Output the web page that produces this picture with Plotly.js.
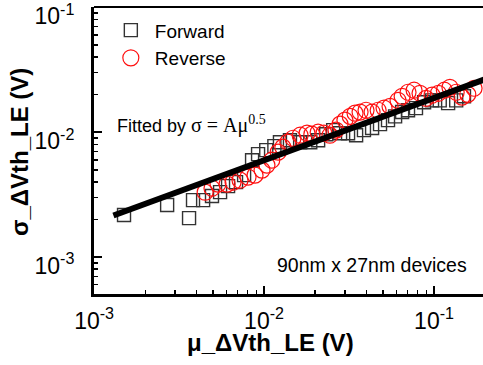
<!DOCTYPE html>
<html>
<head>
<meta charset="utf-8">
<script src="https://cdn.plot.ly/plotly-3.0.1.min.js"></script>
<style>html,body{margin:0;padding:0;background:#fff;}#chart{width:483px;height:365px;}</style>
</head>
<body>
<div id="chart"></div>
<script>
// Forward sweep (open squares)
const forwardMu = [1.50e-3, 2.69e-3, 3.62e-3, 3.82e-3, 4.38e-3, 4.94e-3, 5.51e-3, 6.14e-3, 6.84e-3, 7.63e-3,
  8.50e-3, 9.22e-3, 1.03e-2, 1.15e-2, 1.24e-2, 1.42e-2, 1.63e-2, 1.87e-2, 2.08e-2, 2.32e-2,
  2.55e-2, 2.80e-2, 3.12e-2, 3.48e-2, 3.87e-2, 4.32e-2, 4.81e-2, 5.36e-2, 5.90e-2, 6.49e-2,
  7.03e-2, 7.83e-2, 8.74e-2, 9.73e-2, 1.08e-1, 1.21e-1, 1.35e-1, 1.50e-1];
const forwardSigma = [2.17e-3, 2.61e-3, 2.05e-3, 2.86e-3, 2.86e-3, 3.08e-3, 3.31e-3, 3.70e-3, 3.98e-3, 4.53e-3,
  5.97e-3, 6.67e-3, 7.18e-3, 7.73e-3, 8.32e-3, 8.63e-3, 8.32e-3, 8.32e-3, 8.63e-3, 9.64e-3,
  1.04e-2, 9.82e-3, 9.82e-3, 9.46e-3, 1.04e-2, 1.08e-2, 1.16e-2, 1.25e-2, 1.34e-2, 1.45e-2,
  1.50e-2, 1.56e-2, 1.74e-2, 1.80e-2, 1.80e-2, 1.71e-2, 1.80e-2, 1.94e-2];
// Reverse sweep (open circles)
const reverseMu = [4.50e-3, 4.94e-3, 5.36e-3, 6.06e-3, 6.57e-3, 7.22e-3, 8.05e-3, 8.85e-3, 9.73e-3, 1.04e-2,
  1.11e-2, 1.21e-2, 1.29e-2, 1.38e-2, 1.48e-2, 1.63e-2, 1.79e-2, 1.91e-2, 2.08e-2, 2.25e-2,
  2.44e-2, 2.65e-2, 2.80e-2, 2.99e-2, 3.21e-2, 3.43e-2, 3.67e-2, 3.98e-2, 4.32e-2, 4.69e-2,
  5.08e-2, 5.51e-2, 6.14e-2, 6.49e-2, 7.03e-2, 7.63e-2, 8.27e-2, 8.97e-2, 9.73e-2, 1.06e-1,
  1.15e-1, 1.24e-1, 1.35e-1, 1.46e-1, 1.58e-1, 1.72e-1];
const reverseSigma = [3.31e-3, 3.56e-3, 3.84e-3, 3.84e-3, 3.98e-3, 4.13e-3, 4.37e-3, 4.53e-3, 4.97e-3, 5.45e-3,
  5.97e-3, 6.92e-3, 7.59e-3, 8.32e-3, 8.95e-3, 9.46e-3, 9.82e-3, 9.64e-3, 1.00e-2, 9.82e-3,
  9.46e-3, 1.04e-2, 1.16e-2, 1.25e-2, 1.34e-2, 1.42e-2, 1.45e-2, 1.50e-2, 1.45e-2, 1.50e-2,
  1.56e-2, 1.61e-2, 1.80e-2, 1.94e-2, 2.09e-2, 2.17e-2, 2.05e-2, 1.87e-2, 1.98e-2, 2.05e-2,
  2.17e-2, 2.29e-2, 2.09e-2, 1.91e-2, 2.01e-2, 2.25e-2];
// Fit line sigma = A*mu^0.5 (end points)
const fitMu = [1.3e-3, 0.2];
const fitSigma = [2.15e-3, 2.66e-2];

const decadeVals = [1e-3, 1e-2, 1e-1];
const decadeText = ['10<sup>-3</sup>', '10<sup>-2</sup>', '10<sup>-1</sup>'];

const minorVals = [];
for (let e = -4; e <= 0; e++) for (let m = 2; m <= 9; m++) minorVals.push(m * Math.pow(10, e));

const FONT = 'Liberation Sans, Arial, sans-serif';

const traces = [
  {x: forwardMu, y: forwardSigma, mode: 'markers', name: 'Forward', type: 'scatter',
   marker: {symbol: 'square-open', size: 13, color: '#333', line: {width: 1.4, color: '#333'}}},
  {x: reverseMu, y: reverseSigma, mode: 'markers', name: 'Reverse', type: 'scatter',
   marker: {symbol: 'circle-open', size: 16, color: '#ff1010', line: {width: 1.2, color: '#ff1010'}}},
  {x: fitMu, y: fitSigma, mode: 'lines', showlegend: false, type: 'scatter',
   line: {color: '#000', width: 6}}
];

const axisCommon = {
  type: 'log', showgrid: false, zeroline: false, showline: true, linecolor: '#000', linewidth: 3,
  ticks: 'inside', ticklen: 8, tickwidth: 2, tickcolor: '#000',
  tickmode: 'array', tickvals: decadeVals, ticktext: decadeText,
  ticklabeloverflow: 'allow',
  tickfont: {family: FONT, size: 23, color: '#000'},
  minor: {tickmode: 'array', tickvals: minorVals, ticks: 'inside', ticklen: 4, tickwidth: 1.5, tickcolor: '#000'}
};

const layout = {
  width: 483, height: 365,
  margin: {l: 94, r: 0, t: 7, b: 71},
  paper_bgcolor: '#fff', plot_bgcolor: '#fff',
  showlegend: true,
  legend: {x: 0.033, y: 0.985, xanchor: 'left', yanchor: 'top', bgcolor: 'rgba(0,0,0,0)', itemwidth: 38,
           font: {family: FONT, size: 19, color: '#000'}, tracegroupgap: 0},
  xaxis: Object.assign({}, axisCommon, {range: [-3.0005, -0.712], ticklabelstandoff: 4}),
  yaxis: Object.assign({}, axisCommon, {range: [-3.296, -0.997], ticklabelstandoff: 12, ticklabelshift: 9}),
  shapes: [
    {type: 'line', xref: 'paper', yref: 'paper', x0: 0, x1: 1, y0: 1, y1: 1, line: {color: '#000', width: 2}}
  ],
  annotations: [
    {xref: 'paper', yref: 'paper', x: -0.19, y: 0.495, xanchor: 'center', yanchor: 'middle',
     text: '<b>σ_ΔVth_LE (V)</b>', textangle: -90,
     showarrow: false, font: {family: FONT, size: 24, color: '#000'}},
    {xref: 'paper', yref: 'paper', x: 0.455, y: -0.17, xanchor: 'center', yanchor: 'middle',
     text: '<b>μ_ΔVth_LE (V)</b>',
     showarrow: false, font: {family: FONT, size: 24, color: '#000'}},
    {xref: 'paper', yref: 'paper', x: 0.054, y: 0.589, xanchor: 'left', yanchor: 'middle',
     text: "Fitted by <span style='font-family:Liberation Serif,Times New Roman,serif;font-size:20px'>σ = Aμ<sup>0.5</sup></span>",
     showarrow: false, font: {family: FONT, size: 18, color: '#000'}},
    {xref: 'paper', yref: 'paper', x: 0.715, y: 0.101, xanchor: 'center', yanchor: 'middle',
     text: '90nm x 27nm devices',
     showarrow: false, font: {family: FONT, size: 19.5, color: '#000'}}
  ]
};

Plotly.newPlot('chart', traces, layout, {staticPlot: true, displayModeBar: false});
</script>
</body>
</html>
